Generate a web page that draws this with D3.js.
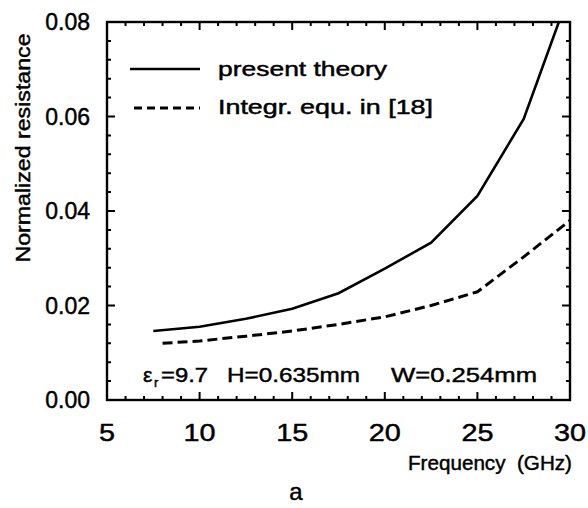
<!DOCTYPE html>
<html><head><meta charset="utf-8">
<script src="https://cdn.jsdelivr.net/npm/d3@7"></script>
<style>
body{margin:0;background:#fff;}
</style></head>
<body><svg id="c" width="588" height="508"></svg>
<script>
// ---- data ----
const xTicks = [5, 10, 15, 20, 25, 30];
const xTickLabels = ["5", "10", "15", "20", "25", "30"];
const yTicks = [0, 0.02, 0.04, 0.06, 0.08];
const yTickLabels = ["0.00", "0.02", "0.04", "0.06", "0.08"];
const presentFreq = [7.5, 10, 12.5, 15, 17.5, 20, 22.5, 25, 27.5, 30];
const presentRes  = [0.0146, 0.0155, 0.0172, 0.0193, 0.0226, 0.0278, 0.0333, 0.0432, 0.0595, 0.0865];
const integrFreq  = [8, 10, 12.5, 15, 17.5, 20, 22.5, 25, 27.5, 30];
const integrRes   = [0.0120, 0.0125, 0.0135, 0.0146, 0.0160, 0.0176, 0.0200, 0.0229, 0.0303, 0.0380];
const legendLabels = ["present theory", "Integr. equ. in [18]"];
const xTitle = "Frequency\u00a0\u00a0(GHz)";
const yTitle = "Normalized resistance";
const caption = "a";

const FONT = "Liberation Sans, Arial, sans-serif";
const svg = d3.select("#c");
const L = 107, R = 570, T = 22, B = 400;
const x = d3.scaleLinear().domain([5, 30]).range([L, R]);
const y = d3.scaleLinear().domain([0, 0.08]).range([B, T]);

function txt(sel) {
  return sel.attr("font-family", FONT).attr("fill", "#000")
    .attr("stroke", "#000").attr("stroke-width", 0.45).style("white-space", "pre");
}

const xAll = d3.range(5, 31, 1).map(v => ({v, major: v % 5 === 0}));
const yAll = d3.range(0, 21, 1).map(i => ({v: i * 0.004, major: i % 5 === 0}));

// ticks as one path (inward on all four sides)
const p = d3.path();
xAll.forEach(d => {
  const len = d.major ? 8 : 4;
  p.moveTo(x(d.v), B); p.lineTo(x(d.v), B - len);
  p.moveTo(x(d.v), T); p.lineTo(x(d.v), T + len);
});
yAll.forEach(d => {
  const len = d.major ? 8 : 4;
  p.moveTo(L, y(d.v)); p.lineTo(L + len, y(d.v));
  p.moveTo(R, y(d.v)); p.lineTo(R - len, y(d.v));
});
svg.append("path").attr("d", p.toString()).attr("fill", "none")
  .attr("stroke", "#000").attr("stroke-width", 2);

// frame
svg.append("rect").attr("x", L).attr("y", T).attr("width", R - L).attr("height", B - T)
  .attr("fill", "none").attr("stroke", "#000").attr("stroke-width", 2.4);

// tick labels
svg.selectAll("text.xlab").data(xTicks).join("text").attr("class", "xlab")
  .attr("transform", d => `translate(${x(d)},441) scale(1.2,1)`)
  .attr("text-anchor", "middle").attr("font-size", 24)
  .text((d, i) => xTickLabels[i]).call(txt);
svg.selectAll("text.ylab").data(yTicks).join("text").attr("class", "ylab")
  .attr("x", L - 17).attr("y", d => y(d)).attr("dy", "0.36em")
  .attr("text-anchor", "end").attr("font-size", 23)
  .text((d, i) => yTickLabels[i]).call(txt);

// clip
svg.append("clipPath").attr("id", "plotclip").append("rect")
  .attr("x", L).attr("y", T).attr("width", R - L).attr("height", B - T);

const line = d3.line().x(d => x(d[0])).y(d => y(d[1]));
svg.append("path").datum(d3.zip(presentFreq, presentRes))
  .attr("clip-path", "url(#plotclip)").attr("d", line)
  .attr("fill", "none").attr("stroke", "#000").attr("stroke-width", 2.6);
svg.append("path").datum(d3.zip(integrFreq, integrRes))
  .attr("clip-path", "url(#plotclip)").attr("d", line)
  .attr("fill", "none").attr("stroke", "#000").attr("stroke-width", 3)
  .attr("stroke-dasharray", "10,5");

// legend
svg.append("line").attr("x1", 130).attr("x2", 200).attr("y1", 69).attr("y2", 69)
  .attr("stroke", "#000").attr("stroke-width", 2.6);
svg.append("line").attr("x1", 134).attr("x2", 200).attr("y1", 108).attr("y2", 108)
  .attr("stroke", "#000").attr("stroke-width", 3).attr("stroke-dasharray", "8,5");
svg.append("text").attr("x", 218).attr("y", 76).attr("font-size", 20)
  .attr("textLength", 169).attr("lengthAdjust", "spacingAndGlyphs").text(legendLabels[0]).call(txt);
svg.append("text").attr("x", 218).attr("y", 114).attr("font-size", 20)
  .attr("textLength", 215).attr("lengthAdjust", "spacingAndGlyphs").text(legendLabels[1]).call(txt);

// annotation
svg.append("text").attr("x", 143).attr("y", 382).attr("font-size", 21).text("ε").call(txt);
svg.append("text").attr("x", 154).attr("y", 387).attr("font-size", 13).text("r").call(txt);
svg.append("text").attr("x", 161).attr("y", 382).attr("font-size", 21)
  .attr("textLength", 47).attr("lengthAdjust", "spacingAndGlyphs").text("=9.7").call(txt);
svg.append("text").attr("x", 227).attr("y", 382).attr("font-size", 21)
  .attr("textLength", 133).attr("lengthAdjust", "spacingAndGlyphs").text("H=0.635mm").call(txt);
svg.append("text").attr("x", 391).attr("y", 382).attr("font-size", 21)
  .attr("textLength", 146).attr("lengthAdjust", "spacingAndGlyphs").text("W=0.254mm").call(txt);

// titles
svg.append("text").attr("x", 408).attr("y", 470).attr("font-size", 21)
  .attr("textLength", 164).attr("lengthAdjust", "spacingAndGlyphs").text(xTitle).call(txt);
svg.append("text").attr("transform", "translate(30,148) rotate(-90)")
  .attr("text-anchor", "middle").attr("font-size", 20)
  .attr("textLength", 229).attr("lengthAdjust", "spacingAndGlyphs").text(yTitle).call(txt);
svg.append("text").attr("x", 296).attr("y", 500).attr("text-anchor", "middle")
  .attr("font-size", 24).text(caption).call(txt);
</script></body></html>
